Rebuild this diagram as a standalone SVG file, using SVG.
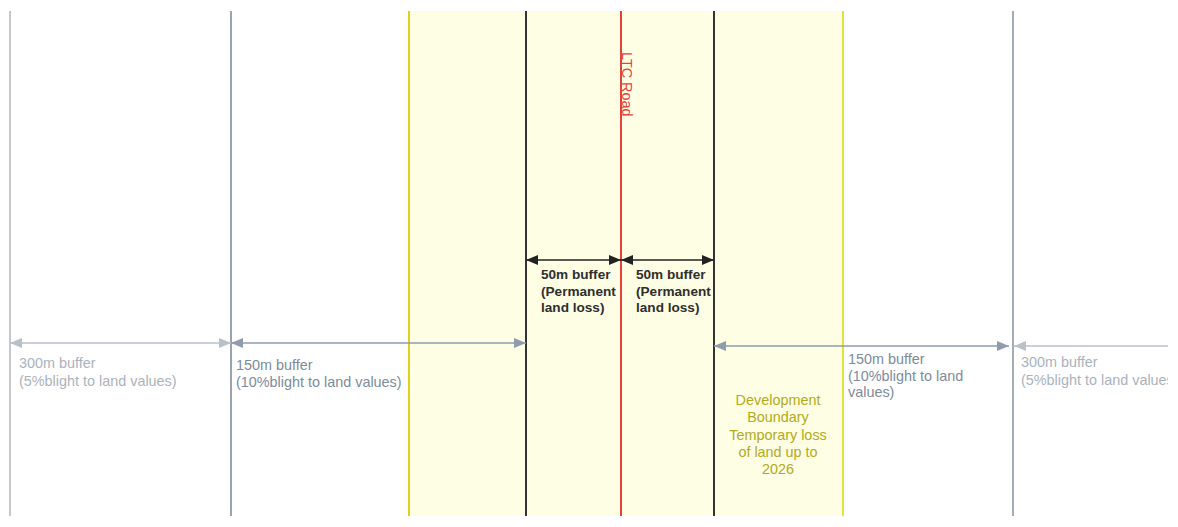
<svg xmlns="http://www.w3.org/2000/svg" width="1178" height="527" viewBox="0 0 1178 527">
<defs>
<style>
text{font-family:"Liberation Sans",Arial,sans-serif;font-size:14.4px}
.t300{fill:#aab3bc}
.t150{fill:#7d8b9b}
.t50{fill:#2e2e2e;font-weight:bold;font-size:13.6px}
.tdev{fill:#b2aa1c}
.road{fill:#e8413c}
</style>
<clipPath id="frame"><rect x="0" y="0" width="1168" height="527"/></clipPath>
<marker id="g1" viewBox="0 0 12 10" refX="12" refY="5" markerWidth="12" markerHeight="10" markerUnits="userSpaceOnUse" orient="auto-start-reverse"><path d="M12,5 L0,0 L0,10 Z" fill="#b8c0c8"/></marker>
<marker id="g2" viewBox="0 0 12 10" refX="12" refY="5" markerWidth="12" markerHeight="10" markerUnits="userSpaceOnUse" orient="auto-start-reverse"><path d="M12,5 L0,0 L0,10 Z" fill="#8f9cab"/></marker>
<marker id="k" viewBox="0 0 12 10" refX="12" refY="5" markerWidth="12" markerHeight="10" markerUnits="userSpaceOnUse" orient="auto-start-reverse"><path d="M12,5 L0,0 L0,10 Z" fill="#222"/></marker>
</defs>
<rect width="1178" height="527" fill="#fff"/>
<rect id="zone" x="409" y="11" width="434" height="505" fill="#fefee4"/>
<g id="boundaries" stroke-width="2">
<line x1="10" y1="11" x2="10" y2="516" stroke="#c3c9cf"/>
<line x1="231" y1="11" x2="231" y2="516" stroke="#9aa4ae"/>
<line x1="409" y1="11" x2="409" y2="516" stroke="#dcd41c"/>
<line x1="526" y1="11" x2="526" y2="516" stroke="#333"/>
<line x1="621" y1="11" x2="621" y2="516" stroke="#e8413c"/>
<line x1="714" y1="11" x2="714" y2="516" stroke="#333"/>
<line x1="843" y1="11" x2="843" y2="516" stroke="#e6e03a"/>
<line x1="1013" y1="11" x2="1013" y2="516" stroke="#a3adb7"/>
</g>
<g id="connectors" stroke-width="1.3" fill="none">
<line x1="10" y1="343" x2="231" y2="343" stroke="#b8c0c8" marker-start="url(#g1)" marker-end="url(#g1)"/>
<line x1="231" y1="343" x2="526" y2="343" stroke="#8f9cab" marker-start="url(#g2)" marker-end="url(#g2)"/>
<line x1="714" y1="346" x2="1009" y2="346" stroke="#8f9cab" marker-start="url(#g2)" marker-end="url(#g2)"/>
<line x1="1014" y1="346" x2="1168" y2="346" stroke="#b8c0c8" marker-start="url(#g1)"/>
<line x1="526" y1="260" x2="621" y2="260" stroke="#222" marker-start="url(#k)" marker-end="url(#k)"/>
<line x1="621" y1="260" x2="714" y2="260" stroke="#222" marker-start="url(#k)" marker-end="url(#k)"/>
</g>
<g id="label-road"><text class="road" transform="translate(622,52) rotate(90)">LTC Road</text></g>
<g id="label-300-left"><text class="t300" x="19" y="368">300m buffer</text><text class="t300" x="19" y="386">(5%blight to land values)</text></g>
<g id="label-150-left"><text class="t150" x="236" y="370">150m buffer</text><text class="t150" x="236" y="387">(10%blight to land values)</text></g>
<g id="label-50-left"><text class="t50" x="541" y="279">50m buffer</text><text class="t50" x="541" y="296">(Permanent</text><text class="t50" x="541" y="312">land loss)</text></g>
<g id="label-50-right"><text class="t50" x="636" y="279">50m buffer</text><text class="t50" x="636" y="296">(Permanent</text><text class="t50" x="636" y="312">land loss)</text></g>
<g id="label-150-right"><text class="t150" x="848" y="364">150m buffer</text><text class="t150" x="848" y="381">(10%blight to land</text><text class="t150" x="848" y="397">values)</text></g>
<g id="label-300-right" clip-path="url(#frame)"><text class="t300" x="1021" y="367">300m buffer</text><text class="t300" x="1021" y="385">(5%blight to land values)</text></g>
<g id="label-dev" text-anchor="middle"><text class="tdev" x="778" y="405">Development</text><text class="tdev" x="778" y="422">Boundary</text><text class="tdev" x="778" y="440">Temporary loss</text><text class="tdev" x="778" y="457">of land up to</text><text class="tdev" x="778" y="474">2026</text></g>
</svg>
